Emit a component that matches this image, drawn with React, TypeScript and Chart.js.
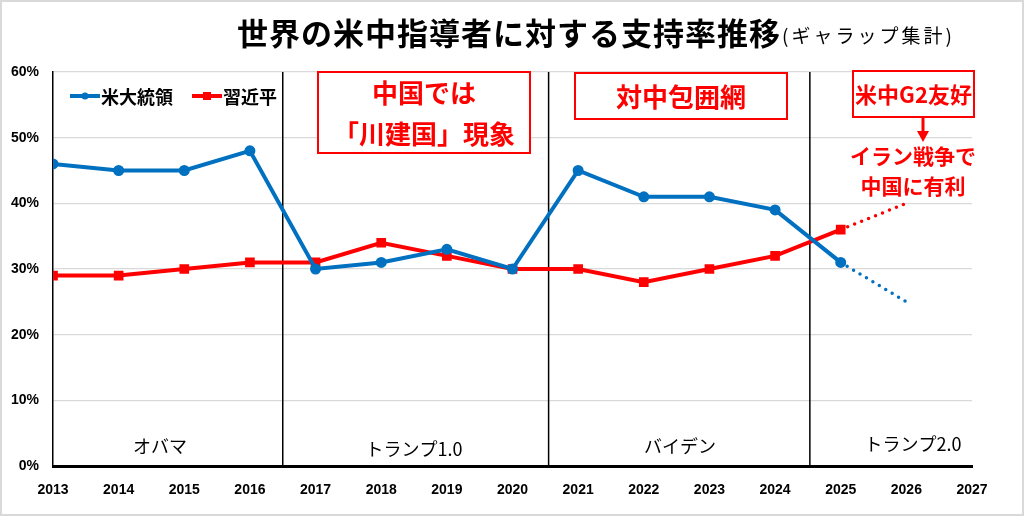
import React, { useEffect, useRef } from 'react';
import { Chart, registerables } from 'chart.js';

Chart.register(...registerables);

// data (percent)
const years = [2013, 2014, 2015, 2016, 2017, 2018, 2019, 2020, 2021, 2022, 2023, 2024, 2025];
const usPresident = [46, 45, 45, 48, 30, 31, 33, 30, 45, 41, 41, 39, 31];
const xiJinping = [29, 29, 30, 31, 31, 34, 32, 30, 30, 28, 30, 32, 36];
const projectionYears = [2025, 2026];
const usProjection = [31, 25];
const xiProjection = [36, 40];
const seriesNames = ['米大統領', '習近平'];

const periodNames = ['オバマ', 'トランプ1.0', 'バイデン', 'トランプ2.0'];
const periodBounds = [2016.5, 2020.55, 2024.53];

const BLUE = '#0070C0';
const RED = '#FF0000';
const JP = '"Noto Sans CJK JP", "Noto Sans", sans-serif';

const toPoints = (xs: number[], ys: number[]) => xs.map((x, i) => ({ x, y: ys[i] }));

const overlay = {
	id: 'overlay',
	beforeDatasetsDraw(chart: any) {
		const { ctx, chartArea, scales } = chart;
		ctx.save();
		ctx.strokeStyle = '#000';
		ctx.lineWidth = 1.5;
		periodBounds.forEach((b) => {
			const x = scales.x.getPixelForValue(b);
			ctx.beginPath();
			ctx.moveTo(x, chartArea.top);
			ctx.lineTo(x, chartArea.bottom);
			ctx.stroke();
		});

		// period labels
		const labelX = [2014.63, 2018.5, 2022.55, 2026.1];
		const labelY = [3.0, 2.6, 3.0, 3.3];
		ctx.fillStyle = '#000';
		ctx.font = `18px ${JP}`;
		ctx.textAlign = 'center';
		ctx.textBaseline = 'middle';
		periodNames.forEach((name, i) => {
			ctx.fillText(name, scales.x.getPixelForValue(labelX[i]), scales.y.getPixelForValue(labelY[i]));
		});
		ctx.restore();
	},
	afterDraw(chart: any) {
		const { ctx } = chart;
		ctx.save();

		// title
		ctx.fillStyle = '#000';
		ctx.textBaseline = 'middle';
		ctx.textAlign = 'left';
		ctx.font = `bold 31px ${JP}`;
		ctx.letterSpacing = '1px';
		const title = '世界の米中指導者に対する支持率推移';
		ctx.fillText(title, 237, 33);
		const tw = ctx.measureText(title).width;
		ctx.font = `19px ${JP}`;
		ctx.letterSpacing = '3px';
		ctx.fillText('(ギャラップ集計)', 237 + tw + 1, 36);
		ctx.letterSpacing = '0px';

		// legend
		const legend = [
			{ x: 70, color: BLUE, text: seriesNames[0], rect: false },
			{ x: 192, color: RED, text: seriesNames[1], rect: true },
		];
		legend.forEach((l) => {
			ctx.strokeStyle = l.color;
			ctx.fillStyle = l.color;
			ctx.lineWidth = 4;
			ctx.beginPath();
			ctx.moveTo(l.x, 96);
			ctx.lineTo(l.x + 30, 96);
			ctx.stroke();
			if (l.rect) ctx.fillRect(l.x + 11, 92, 8, 8);
			else {
				ctx.beginPath();
				ctx.arc(l.x + 15, 96, 3.5, 0, Math.PI * 2);
				ctx.fill();
			}
			ctx.fillStyle = '#000';
			ctx.font = `bold 18px ${JP}`;
			ctx.textAlign = 'left';
			ctx.fillText(l.text, l.x + 31, 97);
		});

		// annotation boxes
		const box = (x: number, y: number, w: number, h: number, lines: string[], size: number) => {
			ctx.fillStyle = '#fff';
			ctx.fillRect(x, y, w, h);
			ctx.strokeStyle = RED;
			ctx.lineWidth = 2;
			ctx.strokeRect(x, y, w, h);
			ctx.fillStyle = RED;
			ctx.font = `bold ${size}px ${JP}`;
			ctx.textAlign = 'center';
			const lh = h / lines.length;
			lines.forEach((t, i) => ctx.fillText(t, x + w / 2, y + lh * (i + 0.5) + 1));
		};
		box(318, 72, 212, 81, ['中国では', '「川建国」現象'], 26);
		box(575, 73, 212, 46, ['対中包囲網'], 26);
		box(853, 71, 121, 46, ['米中G2友好'], 22);

		// arrow
		ctx.strokeStyle = RED;
		ctx.fillStyle = RED;
		ctx.lineWidth = 3;
		ctx.beginPath();
		ctx.moveTo(923, 117);
		ctx.lineTo(923, 132);
		ctx.stroke();
		ctx.beginPath();
		ctx.moveTo(917, 131);
		ctx.lineTo(929, 131);
		ctx.lineTo(923, 142);
		ctx.closePath();
		ctx.fill();

		ctx.font = `bold 21px ${JP}`;
		ctx.textAlign = 'center';
		ctx.fillText('イラン戦争で', 913, 156);
		ctx.fillText('中国に有利', 913, 186);

		// outer frame
		ctx.strokeStyle = '#d9d9d9';
		ctx.lineWidth = 2;
		ctx.strokeRect(1, 1, 1022, 514);
		ctx.restore();
	},
};

const App: React.FC = () => {
	const chartRef = useRef<HTMLCanvasElement | null>(null);
	const chartInstanceRef = useRef<Chart | null>(null);

	useEffect(() => {
		document.body.style.margin = '0';
		if (!chartRef.current) return;
		const ctx = chartRef.current.getContext('2d');
		if (!ctx) return;

		const tickFont = { family: '"Liberation Sans", sans-serif', size: 14, weight: 'bold' as const };

		chartInstanceRef.current = new Chart(ctx, {
			type: 'line',
			data: {
				datasets: [
					{
						label: seriesNames[0],
						data: toPoints(years, usPresident),
						borderColor: BLUE,
						backgroundColor: BLUE,
						borderWidth: 4,
						pointRadius: 3.5,
						pointStyle: 'circle',
						tension: 0,
					},
					{
						label: seriesNames[1],
						data: toPoints(years, xiJinping),
						borderColor: RED,
						backgroundColor: RED,
						borderWidth: 4,
						pointRadius: 4,
						pointStyle: 'rect',
						tension: 0,
					},
					{
						label: seriesNames[0] + ' 予測',
						data: toPoints(projectionYears, usProjection),
						borderColor: BLUE,
						borderWidth: 3.5,
						borderDash: [0, 7.5],
						borderCapStyle: 'round',
						pointRadius: 0,
					},
					{
						label: seriesNames[1] + ' 予測',
						data: toPoints(projectionYears, xiProjection),
						borderColor: RED,
						borderWidth: 3.5,
						borderDash: [0, 7.5],
						borderCapStyle: 'round',
						pointRadius: 0,
					},
				],
			},
			options: {
				responsive: false,
				animation: false,
				devicePixelRatio: 1,
				layout: { padding: { top: 72, right: 52, left: 0, bottom: 0 } },
				plugins: {
					legend: { display: false },
					title: { display: false },
					tooltip: { enabled: false },
				},
				scales: {
					x: {
						type: 'linear',
						min: 2013,
						max: 2027,
						ticks: {
							stepSize: 1,
							color: '#000',
							font: tickFont,
							padding: 8,
							callback: (v: any) => String(v),
						},
						grid: { display: false },
						border: { color: '#000', width: 3 },
						afterFit: (s: any) => { s.height = 50; },
					},
					y: {
						min: 0,
						max: 60,
						ticks: {
							stepSize: 10,
							color: '#000',
							font: tickFont,
							padding: 14,
							callback: (v: any) => v + '%',
						},
						grid: { color: '#d9d9d9', lineWidth: 1.2, drawTicks: false },
						border: { color: '#000', width: 1.5 },
						afterFit: (s: any) => { s.width = 53; },
					},
				},
			},
			plugins: [overlay],
		});

		return () => {
			if (chartInstanceRef.current) {
				chartInstanceRef.current.destroy();
				chartInstanceRef.current = null;
			}
		};
	}, []);

	return (
		<div style={{ width: 1024, height: 516, background: '#fff' }}>
			<canvas ref={chartRef} width={1024} height={516} />
		</div>
	);
};

export default App;
